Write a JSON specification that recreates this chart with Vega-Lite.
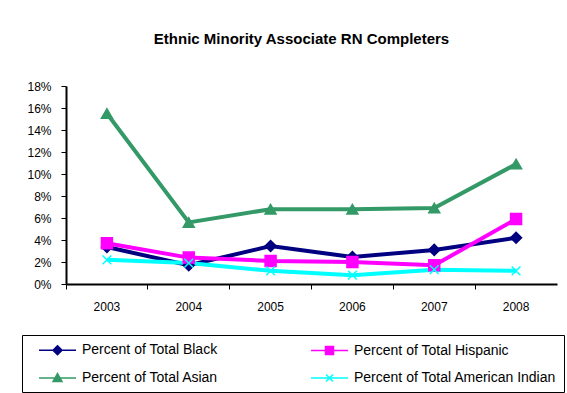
{
  "$schema": "https://vega.github.io/schema/vega-lite/v6.json",
  "autosize": {"type": "none"},
  "width": 491,
  "height": 198,
  "padding": {"left": 66, "top": 86, "right": 10, "bottom": 109},
  "background": "white",
  "config": {
    "font": "Liberation Sans",
    "view": {"stroke": null}
  },
  "title": {
    "text": "Ethnic Minority Associate  RN Completers",
    "font": "Liberation Sans",
    "fontSize": 15,
    "fontWeight": "bold",
    "color": "black",
    "dx": -10,
    "offset": 33
  },
  "data": {
    "values": [
      {"year": "2003", "series": "Percent of Total Black", "value": 0.0336},
      {"year": "2004", "series": "Percent of Total Black", "value": 0.017},
      {"year": "2005", "series": "Percent of Total Black", "value": 0.0345},
      {"year": "2006", "series": "Percent of Total Black", "value": 0.0245},
      {"year": "2007", "series": "Percent of Total Black", "value": 0.031},
      {"year": "2008", "series": "Percent of Total Black", "value": 0.042},
      {"year": "2003", "series": "Percent of Total Hispanic", "value": 0.037},
      {"year": "2004", "series": "Percent of Total Hispanic", "value": 0.024},
      {"year": "2005", "series": "Percent of Total Hispanic", "value": 0.021},
      {"year": "2006", "series": "Percent of Total Hispanic", "value": 0.02},
      {"year": "2007", "series": "Percent of Total Hispanic", "value": 0.017},
      {"year": "2008", "series": "Percent of Total Hispanic", "value": 0.059},
      {"year": "2003", "series": "Percent of Total Asian", "value": 0.155},
      {"year": "2004", "series": "Percent of Total Asian", "value": 0.056},
      {"year": "2005", "series": "Percent of Total Asian", "value": 0.068},
      {"year": "2006", "series": "Percent of Total Asian", "value": 0.068},
      {"year": "2007", "series": "Percent of Total Asian", "value": 0.069},
      {"year": "2008", "series": "Percent of Total Asian", "value": 0.109},
      {"year": "2003", "series": "Percent of Total American Indian", "value": 0.022},
      {"year": "2004", "series": "Percent of Total American Indian", "value": 0.019},
      {"year": "2005", "series": "Percent of Total American Indian", "value": 0.012},
      {"year": "2006", "series": "Percent of Total American Indian", "value": 0.008},
      {"year": "2007", "series": "Percent of Total American Indian", "value": 0.013},
      {"year": "2008", "series": "Percent of Total American Indian", "value": 0.012}
    ]
  },
  "encoding": {
    "x": {
      "field": "year",
      "type": "ordinal",
      "bandPosition": 0.5,
      "scale": {"type": "band", "paddingInner": 0, "paddingOuter": 0},
      "axis": {
        "title": null,
        "labelAngle": 0,
        "bandPosition": 0,
        "labelFontSize": 12,
        "labelColor": "black",
        "labelPadding": 12,
        "domainColor": "black",
        "domainWidth": 2,
        "tickColor": "black",
        "tickSize": 5,
        "tickWidth": 1
      }
    },
    "y": {
      "field": "value",
      "type": "quantitative",
      "scale": {"domain": [0, 0.18]},
      "axis": {
        "title": null,
        "format": ".0%",
        "values": [0, 0.02, 0.04, 0.06, 0.08, 0.1, 0.12, 0.14, 0.16, 0.18],
        "grid": false,
        "labelFontSize": 12,
        "labelColor": "black",
        "labelPadding": 10,
        "domainColor": "black",
        "domainWidth": 2,
        "tickColor": "black",
        "tickSize": 5,
        "tickWidth": 1
      }
    }
  },
  "layer": [
    {
      "mark": {"type": "line", "strokeWidth": 4},
      "encoding": {
        "color": {
          "field": "series",
          "type": "nominal",
          "scale": {
            "domain": ["Percent of Total Black", "Percent of Total Hispanic", "Percent of Total Asian", "Percent of Total American Indian"],
            "range": ["#000080", "#FF00FF", "#339966", "#00FFFF"]
          },
          "legend": null
        }
      }
    },
    {
      "mark": {"type": "point", "filled": true, "opacity": 1, "size": 120, "strokeWidth": 1.5},
      "encoding": {
        "color": {
          "field": "series",
          "type": "nominal",
          "scale": {
            "domain": ["Percent of Total Black", "Percent of Total Hispanic", "Percent of Total Asian", "Percent of Total American Indian"],
            "range": ["#000080", "#FF00FF", "#339966", "#00FFFF"]
          },
          "legend": null
        },
        "stroke": {
          "field": "series",
          "type": "nominal",
          "scale": {
            "domain": ["Percent of Total Black", "Percent of Total Hispanic", "Percent of Total Asian", "Percent of Total American Indian"],
            "range": ["#000080", "#FF00FF", "#339966", "#00FFFF"]
          },
          "legend": null
        },
        "shape": {
          "field": "series",
          "type": "nominal",
          "scale": {
            "domain": ["Percent of Total Black", "Percent of Total Hispanic", "Percent of Total Asian", "Percent of Total American Indian"],
            "range": ["diamond", "square", "triangle-up", "M-0.8,-0.8L0.8,0.8M-0.8,0.8L0.8,-0.8"]
          },
          "legend": null
        }
      }
    },
    {
      "mark": {"type": "point", "filled": true, "opacity": 0, "size": 196},
      "encoding": {
        "color": {
          "field": "series",
          "type": "nominal",
          "scale": {
            "domain": ["Percent of Total Black", "Percent of Total Hispanic", "Percent of Total Asian", "Percent of Total American Indian"],
            "range": ["#000080", "#FF00FF", "#339966", "#00FFFF"]
          },
          "legend": {
            "title": null,
            "orient": "none",
            "legendX": -44,
            "legendY": 249,
            "direction": "horizontal",
            "columns": 2,
            "columnPadding": 82,
            "rowPadding": 12,
            "padding": 7,
            "strokeColor": "black",
            "labelFontSize": 14,
            "labelColor": "black",
            "labelOffset": 37,
            "labelLimit": 400,
            "symbolSize": 196,
            "symbolOpacity": 1,
            "symbolStrokeWidth": 1.5
          }
        },
        "stroke": {
          "field": "series",
          "type": "nominal",
          "scale": {
            "domain": ["Percent of Total Black", "Percent of Total Hispanic", "Percent of Total Asian", "Percent of Total American Indian"],
            "range": ["#000080", "#FF00FF", "#339966", "#00FFFF"]
          },
          "legend": {
            "title": null,
            "orient": "none",
            "legendX": -44,
            "legendY": 249,
            "direction": "horizontal",
            "columns": 2,
            "columnPadding": 82,
            "rowPadding": 12,
            "padding": 7,
            "strokeColor": "black",
            "labelFontSize": 14,
            "labelColor": "black",
            "labelOffset": 37,
            "labelLimit": 400,
            "symbolSize": 196,
            "symbolOpacity": 1,
            "symbolStrokeWidth": 1.5
          }
        },
        "shape": {
          "field": "series",
          "type": "nominal",
          "scale": {
            "domain": ["Percent of Total Black", "Percent of Total Hispanic", "Percent of Total Asian", "Percent of Total American Indian"],
            "range": [
              "M0.29,0H5.57M2.93,-0.64L3.57,0L2.93,0.64L2.29,0Z",
              "M0.29,0H5.57M2.36,-0.57H3.5V0.57H2.36Z",
              "M0.29,0H5.57M2.93,-0.64L3.57,0.5H2.29Z",
              "M0.29,0H5.57M2.43,-0.5L3.43,0.5M2.43,0.5L3.43,-0.5"
            ]
          },
          "legend": {
            "title": null,
            "orient": "none",
            "legendX": -44,
            "legendY": 249,
            "direction": "horizontal",
            "columns": 2,
            "columnPadding": 82,
            "rowPadding": 12,
            "padding": 7,
            "strokeColor": "black",
            "labelFontSize": 14,
            "labelColor": "black",
            "labelOffset": 37,
            "labelLimit": 400,
            "symbolSize": 196,
            "symbolOpacity": 1,
            "symbolStrokeWidth": 1.5
          }
        }
      }
    }
  ],
  "resolve": {"scale": {"shape": "independent", "color": "independent", "stroke": "independent"}}
}
